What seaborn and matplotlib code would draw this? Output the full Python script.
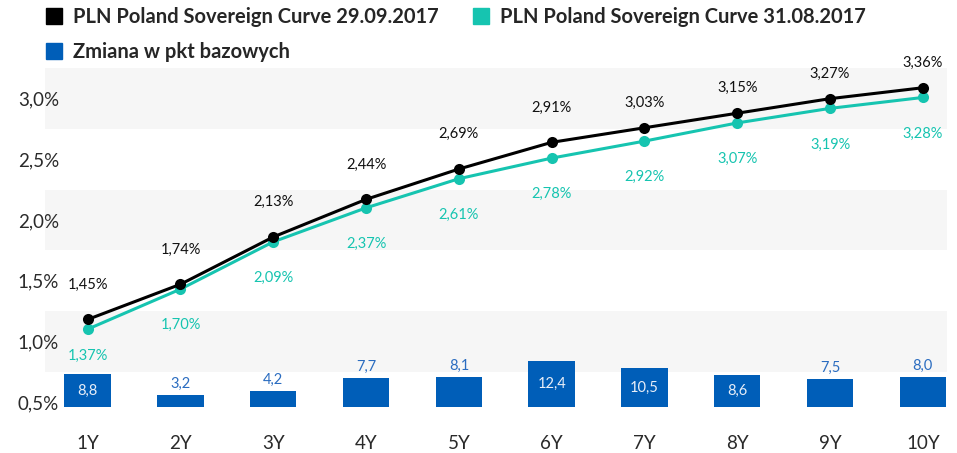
import numpy as np
import pandas as pd
import matplotlib
matplotlib.use("Agg")
import matplotlib.pyplot as plt
from matplotlib.lines import Line2D
import seaborn as sns

# dane z wykresu
tenors = ["1Y", "2Y", "3Y", "4Y", "5Y", "6Y", "7Y", "8Y", "9Y", "10Y"]
curve_sep = [1.45, 1.74, 2.13, 2.44, 2.69, 2.91, 3.03, 3.15, 3.27, 3.36]
curve_aug = [1.37, 1.70, 2.09, 2.37, 2.61, 2.78, 2.92, 3.07, 3.19, 3.28]
change_bp = [8.8, 3.2, 4.2, 7.7, 8.1, 12.4, 10.5, 8.6, 7.5, 8.0]
y_ticks = [0.5, 1.0, 1.5, 2.0, 2.5, 3.0]

label_sep = "PLN Poland Sovereign Curve 29.09.2017"
label_aug = "PLN Poland Sovereign Curve 31.08.2017"
label_chg = "Zmiana w pkt bazowych"

BLACK = "#000000"
TEAL = "#16c4b0"
BLUE = "#005eb8"

sns.set_style("white")
plt.rcParams["font.family"] = ["Lato", "DejaVu Sans"]

df = pd.DataFrame({"tenor": tenors, "pos": np.arange(len(tenors)),
                   "sep": curve_sep, "aug": curve_aug, "chg": change_bp})

fig = plt.figure(figsize=(9.57, 4.53), dpi=100)
ax = fig.add_axes([45 / 957, 28 / 453, 902 / 957, 387 / 453])
ax_bar = ax.twinx()
ax_line = ax.twinx()

# pasy tla
for lo in [0.75, 1.75, 2.75]:
    ax.axhspan(lo, lo + 0.5, color="#f6f6f6", lw=0, zorder=0)
ax.set_ylim(0.31, 3.5)
ax.set_yticks(y_ticks)
ax.set_yticklabels([f"{t:.1f}%".replace(".", ",") for t in y_ticks])

# slupki - zmiana w pb
sns.barplot(data=df, x="tenor", y="chg", ax=ax_bar, color=BLUE, width=0.5,
            saturation=1, edgecolor="none")
ax_bar.set_ylim(-4.84, 99.2)
for i, v in enumerate(change_bp):
    txt = f"{v:.1f}".replace(".", ",")
    if v >= 8.5:
        ax_bar.text(i, v / 2, txt, ha="center", va="center", color="#e8eef8",
                    fontsize=10.5)
    else:
        ax_bar.annotate(txt, (i, v), xytext=(0, 3), textcoords="offset points",
                        ha="center", va="bottom", color="#2a6cc0", fontsize=10.5)

# linie krzywych
sns.lineplot(data=df, x="pos", y="sep", ax=ax_line, color=BLACK, lw=2.2,
             marker="o", markersize=8, markeredgewidth=0, zorder=4)
sns.lineplot(data=df, x="pos", y="aug", ax=ax_line, color=TEAL, lw=2.2,
             marker="o", markersize=8, markeredgewidth=0, zorder=3)
ax_line.set_ylim(0.58, 3.77)
for i, (a, b) in enumerate(zip(curve_sep, curve_aug)):
    off_a = 25 if i < 6 else 18
    off_b = -19 if i == 0 else -26
    ax_line.annotate(f"{a:.2f}%".replace(".", ","), (i, a), xytext=(0, off_a),
                     textcoords="offset points", ha="center", va="center",
                     color="#111111", fontsize=10.5)
    ax_line.annotate(f"{b:.2f}%".replace(".", ","), (i, b), xytext=(0, off_b),
                     textcoords="offset points", ha="center", va="center",
                     color=TEAL, fontsize=10.5)

for a in (ax_bar, ax_line):
    a.set_ylabel("")
    a.set_yticks([])
    a.set_xlabel("")
    for s in a.spines.values():
        s.set_visible(False)

ax.set_xlim(-0.46, 9.26)
ax.set_xticks(np.arange(len(tenors)))
ax.set_xticklabels(tenors)
ax.set_xlabel("")
ax.set_ylabel("")
ax.tick_params(axis="both", length=0, labelsize=13.5, colors="#2a2a2a")
ax.tick_params(axis="y", pad=-10)
ax.tick_params(axis="x", pad=7)
for s in ax.spines.values():
    s.set_visible(False)

handles = [
    Line2D([], [], marker="s", ls="none", color=BLACK, markersize=12),
    Line2D([], [], marker="s", ls="none", color=BLUE, markersize=12),
    Line2D([], [], marker="s", ls="none", color=TEAL, markersize=12),
]
fig.legend(handles, [label_sep, label_chg, label_aug], ncol=2,
           loc="upper left", bbox_to_anchor=(0.027, 1.025), frameon=False,
           prop={"size": 14.5, "weight": "bold"}, handletextpad=0.45,
           columnspacing=1.6, labelspacing=0.75, handlelength=1.0)

fig.savefig("out.png", dpi=100)
